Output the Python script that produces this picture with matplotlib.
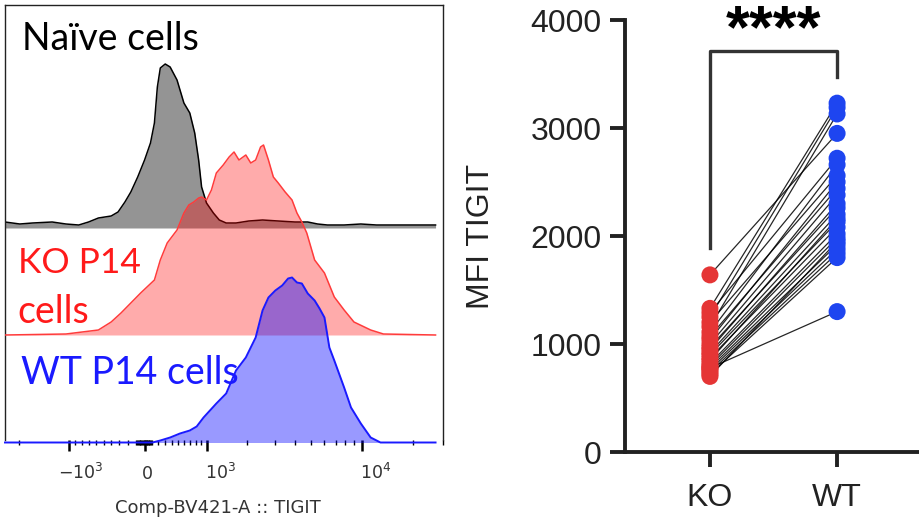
import numpy as np
import matplotlib
matplotlib.use("Agg")
import matplotlib.pyplot as plt
import matplotlib.transforms as mtransforms

# ---------------- data ----------------
# Flow histograms (channel position, event height)
naive_ch = [0, 15, 28, 48, 62, 75, 85, 95, 108, 115, 122, 128, 135, 142, 148, 152, 155, 158, 163, 168,
            175, 182, 188, 193, 197, 200, 205, 212, 218, 225, 235, 248, 262, 278, 295, 308, 318, 328,
            345, 362, 378, 395, 438]
naive_h = [3, 1, 2, 3, 1, 0, 3, 7, 9, 13, 23, 33, 48, 65, 82, 102, 138, 157, 161, 158,
           145, 122, 112, 92, 65, 38, 22, 12, 5, 2, 2, 4, 5, 4, 3, 3, 1, 0,
           0, 1, 0, 0, 0]

ko_ch = [0, 62, 95, 108, 118, 128, 138, 152, 158, 165, 175, 182, 187, 192, 197, 200, 205, 210, 215,
         222, 228, 233, 238, 245, 250, 255, 260, 263, 268, 273, 278, 285, 292, 297, 302, 307, 315,
         325, 335, 345, 355, 372, 385, 438]
ko_h = [0, 1, 5, 13, 22, 32, 42, 55, 75, 92, 105, 122, 130, 133, 137, 138, 135, 145, 162,
        170, 178, 183, 175, 180, 172, 175, 188, 190, 175, 158, 152, 143, 135, 122, 113, 102, 75,
        62, 38, 25, 13, 5, 1, 0]

wt_ch = [0, 150, 158, 168, 178, 188, 195, 202, 215, 225, 235, 245, 255, 262, 268, 275, 282, 288,
         292, 297, 302, 308, 315, 320, 325, 330, 335, 345, 352, 362, 372, 382, 438]
wt_h = [0, 0, 2, 5, 9, 12, 16, 25, 39, 49, 72, 85, 105, 132, 145, 152, 157, 164,
        165, 160, 159, 149, 142, 134, 125, 95, 82, 55, 35, 19, 5, 0, 0]

hist_labels = ["Naïve cells", "KO P14\ncells", "WT P14 cells"]

major_tick_values = [-1000, 0, 1000, 10000]
major_tick_labels = [r"$\mathregular{-10^3}$", "0", r"$\mathregular{10^3}$", r"$\mathregular{10^4}$"]
minor_tick_values = ([-2000] + [-k * 100 for k in range(1, 10)] + [-k * 10 for k in range(1, 10)]
                     + [k * 10 for k in range(1, 10)] + [k * 100 for k in range(1, 10)]
                     + [k * 1000 for k in range(2, 10)] + [20000, 30000])
x_label = "Comp-BV421-A :: TIGIT"

# Paired MFI values
groups = ["KO", "WT"]
ko_mfi = [1640, 1330, 1290, 1250, 1200, 1160, 1110, 1070, 1040, 1000, 970, 950, 920, 900,
          870, 850, 820, 800, 780, 760, 740, 720, 700, 778]
wt_mfi = [2950, 3230, 2720, 3190, 2560, 3130, 2660, 2440, 2500, 2380, 2260, 2300, 2200, 2130,
          2080, 2160, 2020, 1980, 1920, 1880, 1840, 1800, 1950, 1300]
y_label = "MFI TIGIT"
signif = "****"


def biex(v):
    v = np.asarray(v, dtype=float)
    return np.where(v >= 0, 142 + 75.3 * np.arcsinh(v / 1065.0),
                    142 - 91.8 * np.arcsinh(-v / 1065.0))


# ---------------- figure ----------------
fig = plt.figure(figsize=(9.2, 5.21), dpi=100)

# ----- left: histogram panel -----
axL = fig.add_axes([5 / 920, 1 - 440 / 521, 438 / 920, 435 / 521])
axL.set_xlim(0, 438)
axL.set_ylim(0, 435)

base_naive, base_ko, base_wt = 215, 105, -2.5

nh = base_naive + np.array(naive_h)
axL.fill_between(naive_ch, base_naive - 3, nh, color="#949494", lw=0, zorder=1)
axL.plot(naive_ch, nh, color="black", lw=1.1, zorder=2)

kh = base_ko + np.array(ko_h)
axL.fill_between(ko_ch, base_ko, kh, color=(1.0, 0.0, 0.0, 0.33), lw=0, zorder=3)
axL.plot(ko_ch, kh, color="#ff3b3b", lw=1.1, zorder=4)

wh = base_wt + np.array(wt_h)
axL.fill_between(wt_ch, base_wt, wh, color=(0.0, 0.0, 1.0, 0.40), lw=0, zorder=5, clip_on=False)
axL.plot(wt_ch, wh, color="#1a1aff", lw=1.4, zorder=6, clip_on=False)

for sp in axL.spines.values():
    sp.set_color("#222222")
    sp.set_linewidth(1.0)
axL.spines["bottom"].set_visible(False)
axL.set_yticks([])

axL.set_xticks(biex(major_tick_values))
axL.set_xticklabels([])
axL.set_xticks(biex(minor_tick_values), minor=True)
axL.tick_params(axis="x", which="major", direction="out", length=8, width=1.8,
                color="black")
axL.tick_params(axis="x", which="minor", direction="out", length=3.5, width=1.0,
                color="black")
lab_tr = mtransforms.blended_transform_factory(axL.transData, fig.transFigure)
label_dx = [12, 3, 14, 14]
for v, lab, dx in zip(major_tick_values, major_tick_labels, label_dx):
    axL.text(float(biex(v)) + dx, 1 - 479 / 521, lab, transform=lab_tr, ha="center",
             va="baseline", fontsize=12.5, color="#333333", family="DejaVu Sans")
fig.text(218 / 920, 1 - 513 / 521, x_label, ha="center", va="baseline", fontsize=13,
         color="#333333", family="DejaVu Sans")

lab_font = "Lato"
axL.text(17, 440 - 50, hist_labels[0], fontsize=27, color="black", family=lab_font,
         ha="left", va="baseline")
axL.text(13, 440 - 273, "KO P14", fontsize=25.5, color="#ff1a1a", family=lab_font,
         ha="left", va="baseline")
axL.text(13, 440 - 323, "cells", fontsize=27, color="#ff1a1a", family=lab_font,
         ha="left", va="baseline")
axL.text(16, 440 - 384, hist_labels[2], fontsize=27, color="#1a1aff", family=lab_font,
         ha="left", va="baseline", zorder=7)

# ----- right: paired dot plot -----
axR = fig.add_axes([625 / 920, 1 - 452 / 521, 295 / 920, 432 / 521])
axR.set_xlim(-0.668, 1.652)
axR.set_ylim(0, 4000)
for k, w in zip(ko_mfi, wt_mfi):
    axR.plot([0, 1], [k, w], color="black", lw=0.9, alpha=0.85, zorder=2)
axR.scatter(np.zeros(len(ko_mfi)), ko_mfi, s=150, color="#e53535", edgecolor="none",
            zorder=3, clip_on=False)
axR.scatter(np.ones(len(wt_mfi)), wt_mfi, s=150, color="#1e45f0", edgecolor="none",
            zorder=3, clip_on=False)

axR.spines["top"].set_visible(False)
axR.spines["right"].set_visible(False)
for s in ("left", "bottom"):
    axR.spines[s].set_linewidth(2.8)
    axR.spines[s].set_color("#222222")
axR.set_yticks([0, 1000, 2000, 3000, 4000])
axR.set_xticks([0, 1])
axR.set_xticklabels(groups)
axR.tick_params(axis="both", direction="out", length=11, width=2.8, color="#222222",
                labelsize=23, labelcolor="#222222", pad=6)
axR.tick_params(axis="x", pad=11)
for t in axR.get_xticklabels() + axR.get_yticklabels():
    t.set_family("Liberation Sans")
axR.set_ylabel(y_label, fontsize=23, family="Liberation Sans", color="#222222", labelpad=25)

axR.plot([0, 0, 1, 1], [1890, 3710, 3710, 3470], color="#333333", lw=2.4,
         clip_on=False, zorder=4)
axR.text(0.5, 3750, signif, ha="center", va="baseline", fontsize=44,
         fontweight="bold", family="Liberation Sans", color="black", clip_on=False)

fig.savefig("out.png", dpi=100)
